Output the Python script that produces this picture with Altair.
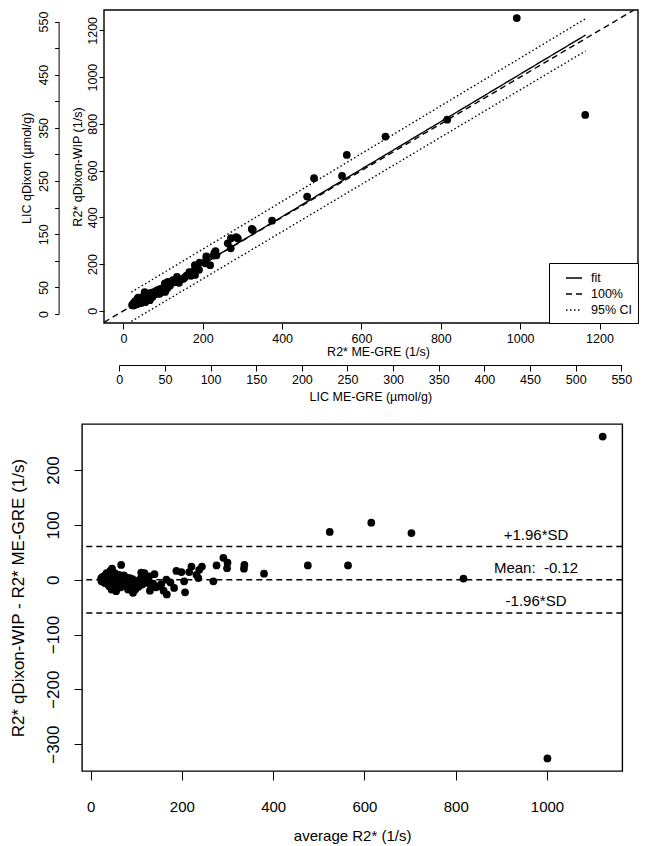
import altair as alt
import pandas as pd

FONT = "Liberation Sans"

# ---------------- data ----------------
# Bland-Altman pairs: average R2* (1/s) and difference qDixon-WIP - ME-GRE (1/s)
average_r2 = [1122, 1001, 817, 703, 615, 524, 564, 476, 380, 337, 336, 300, 299, 291,
              276, 269, 244, 238, 232, 236, 221, 216, 205, 207, 199, 188, 183, 167,
              166, 155, 148, 140, 137, 133, 118, 111, 111, 97, 93, 82, 67,
              23, 24, 25, 26, 27, 28, 29, 30, 31, 32, 33, 34, 35, 36, 37, 38, 39, 40,
              41, 42, 43, 44, 45, 46, 47, 48, 50, 51, 52, 53, 55, 56, 57, 58, 60, 61,
              62, 64, 65, 66, 68, 70, 72, 73, 75, 76, 78, 80, 82, 84, 86, 88, 90, 92,
              95, 98, 100, 102, 105, 108, 113, 120, 125, 128, 130, 143, 160, 175]
difference_r2 = [261, -326, 2, 85, 104, 87, 26, 26, 11, 27, 20, 31, 21, 40,
                 26, -3, 24, 18, 9, 3, 24, 14, -3, -23, 14, 16, -15, -27,
                 0, -8, -12, 10, -7, -12, 12, 13, 4, -2, -24, -18, 27,
                 2, -3, 4, 0, 5, -1, 6, 3, -6, 8, 0, -4, 12, 2, -8, 5, -2, 10,
                 -12, 1, 16, -5, 3, -18, 20, -2, 5, -9, 0, 12, -4, -21, 6, -1, 3, -10,
                 9, -3, 1, -14, 5, -6, 2, 8, -9, -2, 4, -12, 0, -7, 3, -15, -5, 1,
                 -10, -18, -8, -3, -13, 0, -9, 3, -6, 6, -20, -14, -20, -5]

# regression lines of the upper panel
series_names = ["fit", "100%", "95% CI"]
fit_x = [20, 1165]
fit_y = [17, 1180]
ci_upper_y = [80, 1250]
ci_lower_y = [-45, 1112]
identity_xy = [-49, 1287]

# limits of agreement of the lower panel
limit_values = [60.5, -0.12, -60.7]
limit_labels = ["+1.96*SD", "Mean:\u00a0 -0.12", "-1.96*SD"]
limit_label_average = 976

# tick values
r2_ticks = [0, 200, 400, 600, 800, 1000, 1200]
lic_ticks = [0, 50, 100, 150, 200, 250, 300, 350, 400, 450, 500, 550]
lic_y_labelled = [0, 50, 150, 250, 350, 450, 550]
ba_x_ticks = [0, 200, 400, 600, 800, 1000]
ba_y_ticks = [-300, -200, -100, 0, 100, 200]

# axis extents
r2_x_domain = [-49, 1297]
r2_y_domain = [-52, 1287]
lic_domain = [0, 550]
avg_domain = [-18.8, 1165]
diff_domain = [-349, 284]

# ---------------- tables ----------------
ba_df = pd.DataFrame({"average": average_r2, "difference": difference_r2})
top_df = pd.DataFrame({
    "x": [a - d / 2 for a, d in zip(average_r2, difference_r2)],
    "y": [a + d / 2 for a, d in zip(average_r2, difference_r2)],
})
lines_df = pd.DataFrame(
    [{"series": "fit", "part": "fit", "x": x, "y": y} for x, y in zip(fit_x, fit_y)]
    + [{"series": "100%", "part": "id", "x": v, "y": v} for v in identity_xy]
    + [{"series": "95% CI", "part": "up", "x": x, "y": y} for x, y in zip(fit_x, ci_upper_y)]
    + [{"series": "95% CI", "part": "low", "x": x, "y": y} for x, y in zip(fit_x, ci_lower_y)]
)
lic_df = pd.DataFrame({"lic": lic_ticks})
limits_df = pd.DataFrame({
    "difference": limit_values,
    "label": limit_labels,
    "average": [limit_label_average] * len(limit_values),
})
frame_df = pd.DataFrame({"frame": [0]})

# ---------------- upper panel ----------------
# plot area is 556 px wide; the boxed region occupies its last 534 px
x_r2 = alt.Scale(domain=r2_x_domain, range=[22, 556], nice=False, zero=False)
y_r2 = alt.Scale(domain=r2_y_domain, nice=False, zero=False)

top_points = alt.Chart(top_df).mark_circle(size=60, color="black", opacity=1).encode(
    x=alt.X("x:Q", scale=x_r2,
            axis=alt.Axis(values=r2_ticks, format="d", title="R2* ME-GRE (1/s)", domain=False,
                          tickSize=6, labelPadding=3.5, titlePadding=0, titleX=296,
                          labelFontSize=12.5, titleFontSize=12.5, labelFlush=False)),
    y=alt.Y("y:Q", scale=y_r2,
            axis=alt.Axis(values=r2_ticks, format="d", title="R2* qDixon-WIP (1/s)", domain=False,
                          offset=-22, tickSize=5, labelAngle=270, labelAlign="center",
                          labelBaseline="bottom", labelPadding=0, titlePadding=1.5,
                          labelFontSize=12.5, titleFontSize=12.5, labelFlush=False)),
)

top_frame = alt.Chart(frame_df).mark_rect(
    fillOpacity=0, stroke="black", strokeWidth=1.4
).encode(
    x=alt.X(datum=r2_x_domain[0], scale=x_r2),
    x2=alt.X2(datum=r2_x_domain[1]),
    y=alt.Y(datum=r2_y_domain[0], scale=y_r2),
    y2=alt.Y2(datum=r2_y_domain[1]),
)

top_lines = alt.Chart(lines_df).mark_line(color="black", strokeWidth=1.4, clip=True).encode(
    x=alt.X("x:Q", scale=x_r2),
    y=alt.Y("y:Q", scale=y_r2),
    strokeDash=alt.StrokeDash(
        "series:N",
        scale=alt.Scale(domain=series_names, range=[[1, 0], [6, 4], [1.5, 2.5]]),
        legend=alt.Legend(title=None, orient="bottom-right", offset=0, padding=6,
                          strokeColor="black", fillColor="white", symbolType="stroke",
                          symbolSize=256, symbolStrokeWidth=1.4, symbolStrokeColor="black",
                          symbolOffset=10, labelOffset=8, labelFontSize=12.5,
                          labelFont=FONT, labelColor="black", rowPadding=0),
    ),
    detail="part:N",
)

lic_layer = alt.Chart(lic_df).mark_point(opacity=0, size=1, strokeWidth=0).encode(
    x=alt.X("lic:Q",
            scale=alt.Scale(domain=lic_domain, range=[37.3, 539.3], nice=False, zero=False),
            axis=alt.Axis(orient="bottom", offset=42, values=lic_ticks, format="d",
                          title="LIC ME-GRE (µmol/g)", tickSize=6, labelPadding=2.6,
                          titlePadding=4.6, labelFontSize=12.5, titleFontSize=12.5,
                          labelFlush=False)),
    y=alt.Y("lic:Q",
            scale=alt.Scale(domain=lic_domain, range=[304, 11.5], nice=False, zero=False),
            axis=alt.Axis(orient="left", offset=23.4, values=lic_ticks, format="d",
                          labelExpr=f"indexof({lic_y_labelled}, datum.value) >= 0 ? datum.label : ''",
                          title="LIC qDixon (µmol/g)",
                          tickSize=4, labelAngle=270, labelAlign="center",
                          labelBaseline="bottom", labelPadding=4.5, titlePadding=3.9,
                          labelFontSize=12.5, titleFontSize=12.5, labelFlush=False)),
)

top = alt.layer(alt.layer(top_points, top_lines, top_frame), lic_layer).resolve_scale(
    x="independent", y="independent"
).properties(width=556, height=313, view=alt.ViewBackground(stroke="transparent"))

# ---------------- lower panel ----------------
x_avg = alt.Scale(domain=avg_domain, nice=False, zero=False)
y_diff = alt.Scale(domain=diff_domain, nice=False, zero=False)

ba_points = alt.Chart(ba_df).mark_circle(size=60, color="black", opacity=1).encode(
    x=alt.X("average:Q", scale=x_avg,
            axis=alt.Axis(values=ba_x_ticks, format="d", title="average R2* (1/s)", domain=False,
                          tickSize=9, labelPadding=19.5, titlePadding=13.8,
                          labelFontSize=15, titleFontSize=15, labelFlush=False)),
    y=alt.Y("difference:Q", scale=y_diff,
            axis=alt.Axis(values=ba_y_ticks, format="d", title="R2* qDixon-WIP - R2* ME-GRE (1/s)",
                          domain=False, tickSize=8, labelAngle=270, labelAlign="center",
                          labelBaseline="bottom", labelPadding=11.3, titlePadding=17.4,
                          labelFontSize=17, titleFontSize=17, labelFlush=False)),
)
ba_rules = alt.Chart(limits_df).mark_rule(color="black", strokeWidth=1.4, strokeDash=[6, 4]).encode(
    y=alt.Y("difference:Q", scale=y_diff)
)
ba_text = alt.Chart(limits_df).mark_text(dy=-12, fontSize=15, font=FONT, color="black").encode(
    x=alt.X("average:Q", scale=x_avg),
    y=alt.Y("difference:Q", scale=y_diff),
    text="label:N",
)
bottom = alt.layer(ba_points, ba_rules, ba_text).properties(
    width=540.3, height=347, view=alt.ViewBackground(stroke="black", strokeWidth=1.4)
)

chart = alt.concat(top, bottom, columns=1, spacing=19).resolve_legend(
    strokeDash="independent"
).properties(
    padding={"left": 0, "top": 0, "right": 0, "bottom": 0}
).configure_view(
    stroke="black", strokeWidth=1.4
).configure_axis(
    labelFont=FONT, titleFont=FONT, labelColor="black", titleColor="black",
    tickColor="black", tickWidth=1, domainColor="black", domainWidth=1,
    grid=False, titleFontWeight="normal"
)

chart.save("out.html", embed_options={"renderer": "svg", "actions": False})
